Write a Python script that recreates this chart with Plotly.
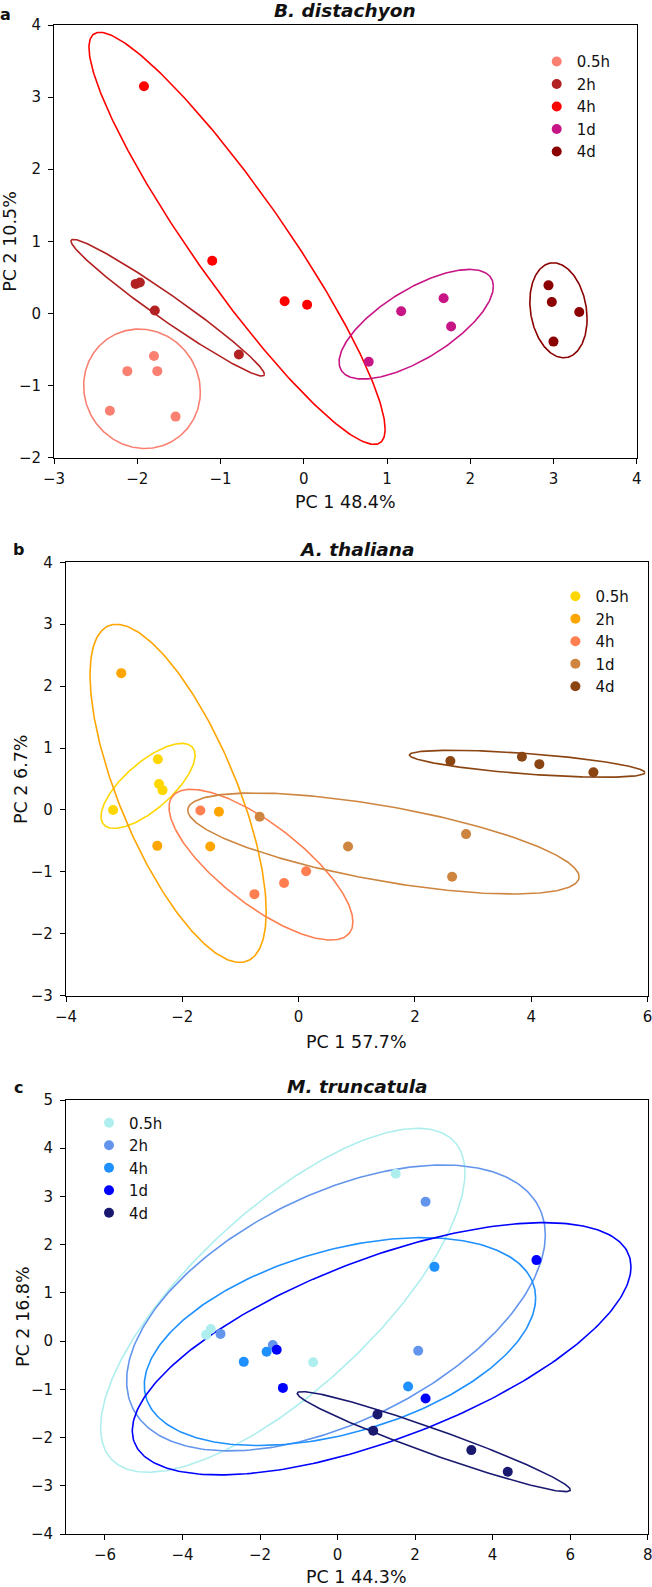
import numpy as np
import plotly.graph_objects as go

W, H = 652, 1587

groups = ["0.5h", "2h", "4h", "1d", "4d"]

# a: B. distachyon
bd_colors = ["#FA8072", "#B22222", "#FF0000", "#C71585", "#8B0000"]
bd_pc1 = [
    [-1.80, -2.12, -1.76, -2.33, -1.54],
    [-2.02, -1.97, -1.79, -0.78],
    [-1.92, -1.10, -0.23, 0.04],
    [1.17, 1.68, 1.77, 0.78],
    [2.94, 2.98, 3.31, 3.00],
]
bd_pc2 = [
    [-0.59, -0.80, -0.80, -1.35, -1.43],
    [0.41, 0.43, 0.04, -0.57],
    [3.15, 0.73, 0.17, 0.12],
    [0.03, 0.21, -0.18, -0.67],
    [0.39, 0.16, 0.02, -0.39],
]
# ellipse: centre x, centre y, half width, half height, correlation
bd_ell = [
    (-1.944, -1.044, 0.701, 0.828, -0.05),
    (-1.635, 0.080, 1.162, 0.948, -0.975),
    (-0.802, 1.041, 1.779, 2.857, -0.926),
    (1.351, -0.149, 0.927, 0.760, 0.69),
    (3.06, 0.044, 0.344, 0.659, -0.18),
]

# b: A. thaliana
at_colors = ["#FFD700", "#FFA500", "#FF7F50", "#CD853F", "#8B4513"]
at_pc1 = [
    [-2.42, -2.40, -2.34, -3.19],
    [-3.05, -1.37, -2.43, -1.52],
    [-1.69, 0.13, -0.25, -0.76],
    [-0.67, 0.85, 2.88, 2.64],
    [2.61, 3.84, 4.14, 5.07],
]
at_pc2 = [
    [0.82, 0.42, 0.32, 0.00],
    [2.21, -0.03, -0.58, -0.59],
    [-0.01, -0.99, -1.18, -1.36],
    [-0.11, -0.59, -0.39, -1.08],
    [0.79, 0.86, 0.74, 0.61],
]
at_ell = [
    (-2.589, 0.389, 0.809, 0.687, 0.72),
    (-2.072, 0.268, 1.515, 2.730, -0.70),
    (-0.647, -0.884, 1.581, 1.217, -0.76),
    (1.459, -0.542, 3.365, 0.816, -0.66),
    (3.931, 0.746, 2.024, 0.218, -0.65),
]

# c: M. truncatula
mt_colors = ["#AFEEEE", "#6495ED", "#1E90FF", "#0000FF", "#191970"]
mt_pc1 = [
    [1.50, -3.27, -3.39, -0.63],
    [2.27, -3.02, -1.67, 2.08],
    [2.50, -2.42, -1.83, 1.82],
    [-1.57, -1.41, 2.27, 5.13],
    [1.03, 0.92, 3.45, 4.39],
]
mt_pc2 = [
    [3.47, 0.25, 0.13, -0.44],
    [2.89, 0.15, -0.08, -0.20],
    [1.54, -0.43, -0.22, -0.94],
    [-0.18, -0.97, -1.19, 1.68],
    [-1.52, -1.86, -2.26, -2.71],
]
mt_ell = [
    (-1.413, 0.847, 4.699, 3.566, 0.74),
    (-0.041, 0.688, 5.400, 2.965, 0.51),
    (0.062, -0.010, 5.047, 2.156, 0.42),
    (1.137, -0.159, 6.432, 2.616, 0.65),
    (2.482, -2.084, 3.521, 1.037, -0.964),
]

panels = [
    dict(name="B. distachyon", letter="a", pc1=bd_pc1, pc2=bd_pc2, ell=bd_ell,
         colors=bd_colors, xlab="PC 1 48.4%", ylab="PC 2 10.5%",
         xr=[-3, 4], yr=[-2, 4], dx=1,
         box=(54.1, 636.7, 25, 457.7), title_y=10.5, xlab_y=502, ylab_x=10.5,
         letter_xy=(5, 14), leg=(536.7, 45.3)),
    dict(name="A. thaliana", letter="b", pc1=at_pc1, pc2=at_pc2, ell=at_ell,
         colors=at_colors, xlab="PC 1 57.7%", ylab="PC 2 6.7%",
         xr=[-4, 6], yr=[-3, 4], dx=2,
         box=(66, 647.5, 562.3, 995.7), title_y=549, xlab_y=1042, ylab_x=21,
         letter_xy=(18, 549), leg=(555.4, 580)),
    dict(name="M. truncatula", letter="c", pc1=mt_pc1, pc2=mt_pc2, ell=mt_ell,
         colors=mt_colors, xlab="PC 1 44.3%", ylab="PC 2 16.8%",
         xr=[-7, 8], yr=[-4, 5], dx=2,
         box=(66.2, 647.7, 1100, 1534), title_y=1086, xlab_y=1577, ylab_x=23,
         letter_xy=(18, 1087), leg=(89, 1106.5)),
]

FONT = "DejaVu Sans, Verdana, sans-serif"
INK = "#111111"


def px(x):
    return x / W


def py(y):
    return 1 - y / H


fig = go.Figure()
t = np.linspace(0, 2 * np.pi, 300)
annotations = []

for i, p in enumerate(panels):
    sfx = "" if i == 0 else str(i + 1)
    xa, ya = "x" + sfx, "y" + sfx
    leg = "legend" + sfx

    for g, col, (cx, cy, sx, sy, r) in zip(groups, p["colors"], p["ell"]):
        ex = cx + sx * np.cos(t)
        ey = cy + sy * (r * np.cos(t) + np.sqrt(1 - r * r) * np.sin(t))
        fig.add_trace(go.Scatter(x=ex, y=ey, mode="lines", xaxis=xa, yaxis=ya,
                                 line=dict(color=col, width=1.6),
                                 showlegend=False, hoverinfo="skip"))
    for g, col, xs, ys in zip(groups, p["colors"], p["pc1"], p["pc2"]):
        fig.add_trace(go.Scatter(x=xs, y=ys, mode="markers", name=g,
                                 xaxis=xa, yaxis=ya, legend=leg,
                                 marker=dict(color=col, size=10)))

    l, rgt, top, bot = p["box"]
    axis_common = dict(showgrid=False, zeroline=False, showline=True,
                       linecolor="black", linewidth=1.2, mirror=True,
                       ticks="outside", ticklen=5, tickcolor="black",
                       automargin=False, ticklabeloverflow="allow",
                       tickfont=dict(size=15, color=INK, family=FONT))
    fig.update_layout(**{
        "xaxis" + sfx: dict(axis_common, domain=[px(l), px(rgt)], range=p["xr"],
                            dtick=p["dx"], anchor=ya, ticklabelstandoff=2),
        "yaxis" + sfx: dict(axis_common, domain=[py(bot), py(top)], range=p["yr"],
                            dtick=1, anchor=xa, ticklabelstandoff=4),
        leg: dict(x=px(p["leg"][0]), y=py(p["leg"][1]), xanchor="left",
                  yanchor="top", bgcolor="rgba(0,0,0,0)", itemwidth=30,
                  font=dict(size=15, color=INK, family=FONT)),
    })

    cxp = (l + rgt) / 2
    annotations += [
        dict(text="<b><i>%s</i></b>" % p["name"], x=px(cxp), y=py(p["title_y"]),
             font=dict(size=18.5)),
        dict(text="<b>%s</b>" % p["letter"], x=px(p["letter_xy"][0]),
             y=py(p["letter_xy"][1]), font=dict(size=16)),
        dict(text=p["xlab"], x=px(cxp), y=py(p["xlab_y"]), font=dict(size=17.5)),
        dict(text=p["ylab"], x=px(p["ylab_x"]), y=py((top + bot) / 2),
             textangle=-90, font=dict(size=17.5)),
    ]

for a in annotations:
    a.update(xref="paper", yref="paper", showarrow=False,
             xanchor="center", yanchor="middle")
    a["font"].update(family=FONT, color=INK)

fig.update_layout(width=W, height=H, margin=dict(l=0, r=0, t=0, b=0),
                  plot_bgcolor="white", paper_bgcolor="white",
                  annotations=annotations, font=dict(family=FONT))

# the page's default body margin would push the figure off by 8px
fig.write_html("out.html", config={"displayModeBar": False},
               post_script="document.body.style.margin='0';"
                           "document.body.style.overflow='hidden';")
